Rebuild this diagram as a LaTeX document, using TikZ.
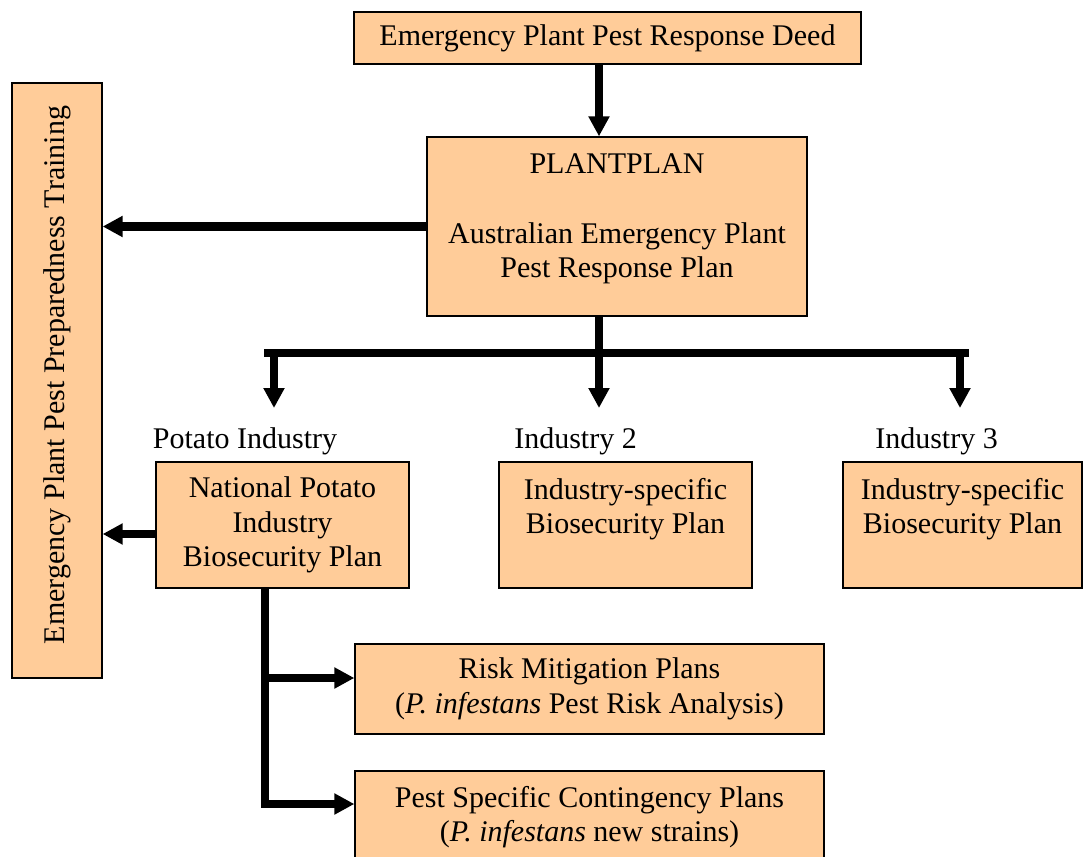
\documentclass[tikz,border=0pt]{standalone}
\usepackage{fontspec}
\setmainfont{Liberation Serif}
\usetikzlibrary{arrows.meta}
\definecolor{peach}{HTML}{FFCC99}
\begin{document}
\begin{tikzpicture}[x=1pt,y=-1pt,
  box/.style={draw=black, line width=1.3pt, fill=peach, inner sep=0pt, align=center,
              font=\fontsize{30}{34.5}\selectfont},
  txt/.style={align=center, inner sep=0pt, font=\fontsize{30}{34.5}\selectfont},
  arr/.style={line width=8.5pt, line join=miter, -{Triangle[width=20pt,length=20pt]}},
  bar/.style={line width=8.5pt}]
\clip (0,0) rectangle (1083,856);
\useasboundingbox (0,0) rectangle (1083,856);

% boxes
\node[box, minimum width=507pt, minimum height=52pt] (deed) at (607.5,38) {Emergency Plant Pest Response Deed};
\node[box, minimum width=380pt, minimum height=179pt] (plan) at (617,226.5) {};
\node[txt] (plantxt) at (617,219) {PLANTPLAN\\[35pt]Australian Emergency Plant\\Pest Response Plan};
\node[box, minimum width=90pt, minimum height=595pt] (train) at (57,380.5) {};
\node[txt, rotate=90] (traintxt) at (57,375) {Emergency Plant Pest Preparedness Training};

\node[txt] (potlab) at (245,441) {Potato Industry};
\node[txt] (ind2lab) at (575.5,441) {Industry 2};
\node[txt] (ind3lab) at (936.5,441) {Industry 3};

\node[box, minimum width=253pt, minimum height=126pt] (pot) at (282.5,525) {National Potato\\Industry\\Biosecurity Plan};
\node[box, minimum width=253pt, minimum height=126pt] (ind2) at (625.5,525) {};
\node[txt] (ind2txt) at (625.5,509) {Industry-specific\\Biosecurity Plan};
\node[box, minimum width=239pt, minimum height=126pt] (ind3) at (962.5,525) {};
\node[txt] (ind3txt) at (962.5,509) {Industry-specific\\Biosecurity Plan};

\node[box, minimum width=469pt, minimum height=90pt] (risk) at (589.5,689) {Risk Mitigation Plans\\(\textit{P. infestans} Pest Risk Analysis)};
\node[box, minimum width=469pt, minimum height=92pt] (cont) at (589.5,817) {Pest Specific Contingency Plans\\(\textit{P. infestans} new strains)};

% connectors
\coordinate (busL) at (264,353);
\coordinate (busR) at (969,353);
\coordinate (t1) at (274,408);
\coordinate (t2) at (599,408);
\coordinate (t3) at (960,408);

\draw[arr] (t2 |- deed.south) -- (t2 |- plan.north);
\draw[arr] (plan.west) -- (plan.west -| train.east);

\draw[bar] (busL) -- (busR);
\draw[arr] (t2 |- plan.south) -- (t2);
\draw[arr] (t1 |- busL) -- (t1);
\draw[arr] (t3 |- busL) -- (t3);

\draw[arr] ([yshift=-9pt]pot.west) -- ([yshift=-9pt]pot.west -| train.east);

\coordinate (ra) at ([yshift=11pt]risk.west);
\coordinate (ca) at ([yshift=13pt]cont.west);
\coordinate (trunk) at (265,804);
\draw[arr] (pot.south -| trunk) -- (trunk |- ca) -- (ca);
\draw[arr] (trunk |- ra) -- (ra);
\end{tikzpicture}
\end{document}
